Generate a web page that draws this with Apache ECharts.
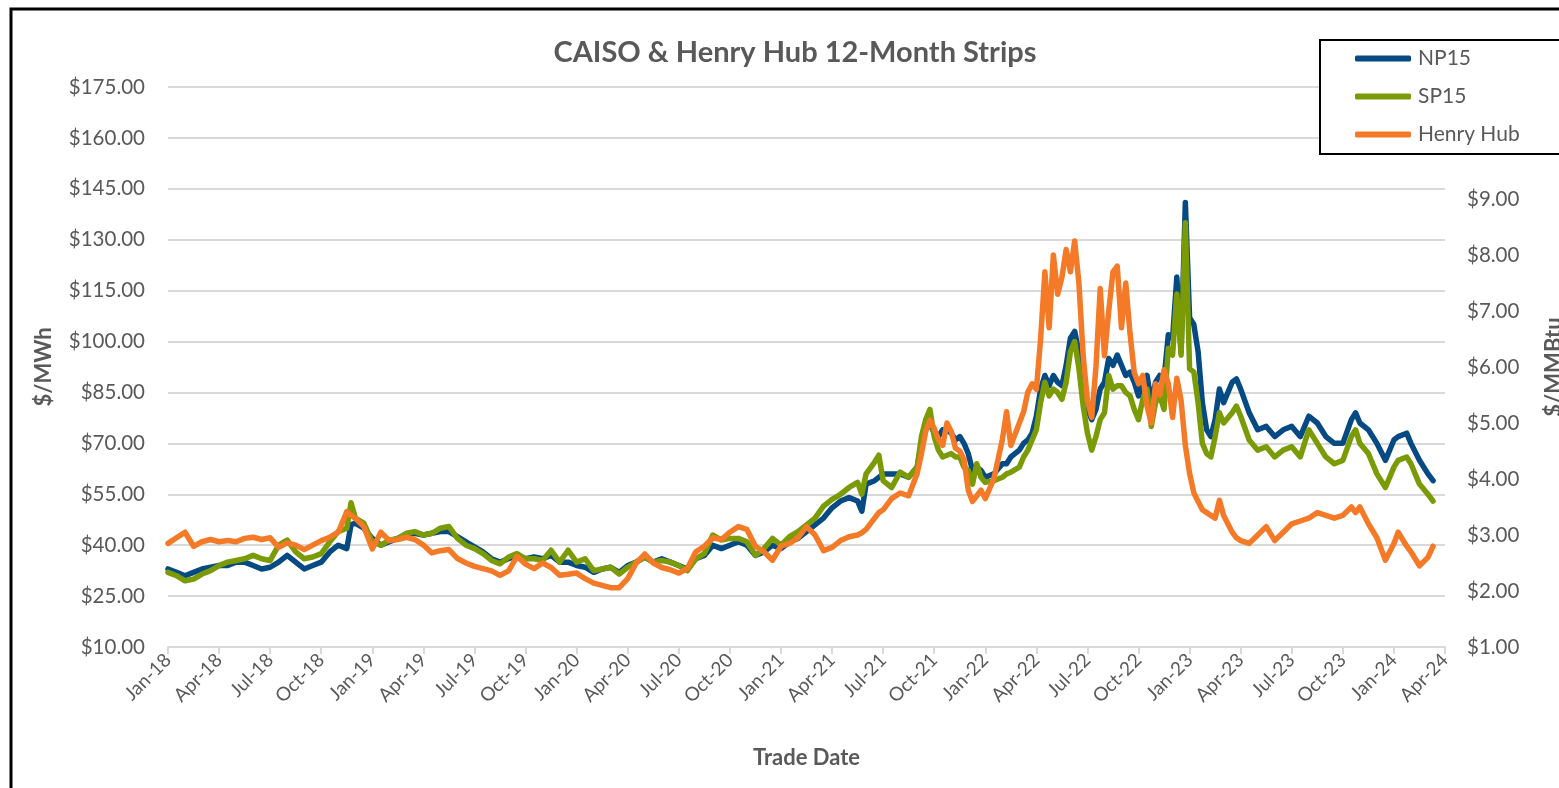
<!DOCTYPE html>
<html>
<head>
<meta charset="utf-8">
<script src="https://cdn.jsdelivr.net/npm/echarts@6/dist/echarts.min.js"></script>
<style>
  html, body { margin: 0; padding: 0; background: #fff; overflow: hidden; }
  #chart { width: 1559px; height: 788px; }
</style>
</head>
<body>
<div id="chart"></div>
<script>
// trade date, in months since Jan-2018
var months = [
  0,0.5,1,1.5,2,2.5,3,3.5,4,4.5,5,5.5,6,6.5,7,7.5,8,8.5,9,9.5,10,10.5,10.75,11,11.5,12,12.5,13,13.5,14,14.5,15,
  15.5,16,16.5,17,17.5,18,18.5,19,19.5,20,20.5,21,21.5,22,22.5,23,23.5,24,24.5,25,25.5,26,26.5,27,27.5,28,28.5,29,29.5,30,30.5,31,
  31.5,32,32.5,33,33.5,34,34.5,35,35.5,36,36.5,37,37.5,38,38.5,39,39.5,40,40.5,40.75,41,41.5,41.75,42,42.5,43,
  43.5,44,44.25,44.5,44.75,45,45.25,45.5,45.75,46,46.25,46.5,46.75,47,47.25,47.5,47.75,48,48.5,49,49.25,49.5,50,50.25,
  50.5,50.75,51,51.25,51.5,51.75,52,52.25,52.5,52.75,53,53.25,53.5,53.75,54,54.25,54.5,54.75,55,55.25,55.5,55.75,56,56.25,
  56.5,56.75,57,57.25,57.5,57.75,58,58.25,58.5,58.75,59,59.25,59.5,59.75,60,60.25,60.5,60.75,61,61.25,61.5,61.75,62,
  62.5,62.75,63,63.5,64,64.5,65,65.5,66,66.5,67,67.5,68,68.5,69,69.5,69.75,70,70.5,71,71.5,72,72.25,72.75,73,73.5,74,74.3
];

var np15 = [
  33,32,31,32,33,33.5,34,34,35,35,34,33,33.5,35,37,35,33,34,35,38,40,39,46,46.5,45,42,40,41,42,43,43.5,43,
  43.5,44,44,42.5,41,39.5,38,36,35,36,37,36,36.5,36,37,35,35,34,33.5,32,33,33.5,32,34,35,36.5,35,36,35,34,33,36,
  37,40,39,40,41,40,37,38,40,39,41,42,44,46,48,51,53,54,53,50,58,59,60,61,61,61,
  60,63,70,74,76,73,72,74,74,73,71,72,70,67,62,63,62,60,61,64,64,66,68,70,
  71,73,78,86,90,87,90,88,87,93,101,103,97,87,80,77,80,86,88,95,93,96,93,90,
  91,88,84,88,90,82,88,90,89,102,101,119,97,141,107,105,97,82,74,72,77,86,82,
  88,89,86,79,74,75,72,74,75,72,78,76,72,70,70,77,79,76,74,70,65,71,72,73,70,65,61,59
];

var sp15 = [
  32,31,29.5,30,31.5,32.5,34,35,35.5,36,37,36,35.5,40,41.5,38,36,36.5,37.5,41,44,45,52.5,48,46.5,41,40,41.5,42,43.5,44,43,
  43.5,45,45.5,42,40,39,37.5,35.5,34.5,36.5,37.5,36,36,35.5,38.5,35,38.5,35,36,32.5,33,33.5,31.5,33.5,35,36.5,35,35.5,35,34,32.5,36,
  37.5,43,41.5,42,42,41,37,39,42,40,42.5,44,46,48,51.5,53.5,55,57,58.5,55,61,64.5,66.5,59,57,61.5,
  60,63,72,77,80,72,68,66,66.5,67,66,66,63,62,58,64,60,58.5,59,60,61,61.5,63,66,
  68,71,74,82,88,84,86,85,83,88,97,100,92,81,73,68,72,77,79,90,86,87,87,85,
  84,80,77,83,86,75,82,84,80,98,96,114,96,135,92,91,82,70,67,66,72,79,76,
  79,81,78,71,68,69,66,68,69,66,74,70,66,64,65,72,74,70,67,61,57,63,65,66,64,58,55,53
];

var henryHub = [
  2.85,2.95,3.05,2.80,2.88,2.92,2.88,2.90,2.88,2.94,2.96,2.92,2.95,2.78,2.86,2.82,2.74,2.82,2.90,2.96,3.05,3.42,3.35,3.30,3.15,2.75,3.05,2.90,2.92,2.96,2.92,2.82,
  2.68,2.72,2.74,2.58,2.50,2.44,2.40,2.36,2.28,2.36,2.62,2.48,2.40,2.50,2.42,2.28,2.30,2.32,2.22,2.14,2.10,2.06,2.06,2.22,2.50,2.66,2.50,2.42,2.38,2.32,2.40,2.70,
  2.80,2.95,2.92,3.05,3.15,3.10,2.80,2.70,2.55,2.80,2.85,2.95,3.15,3.00,2.72,2.78,2.90,2.97,3.00,3.04,3.10,3.30,3.40,3.45,3.65,3.75,
  3.70,4.10,4.45,4.85,5.05,4.90,4.70,4.60,5.00,4.85,4.55,4.50,4.35,3.80,3.60,3.70,3.80,3.65,4.00,4.70,5.20,4.60,5.00,5.20,
  5.55,5.70,5.60,6.50,7.70,6.70,8.00,7.30,7.60,8.10,7.70,8.25,7.50,6.20,5.40,5.10,6.00,7.40,6.20,7.00,7.70,7.80,6.70,7.50,
  6.60,5.90,5.70,5.85,5.30,5.00,5.70,5.50,5.95,5.70,5.10,5.80,5.40,4.60,4.10,3.75,3.60,3.45,3.40,3.35,3.30,3.62,3.35,
  3.05,2.95,2.90,2.85,3.00,3.15,2.90,3.05,3.20,3.25,3.30,3.40,3.35,3.30,3.35,3.50,3.40,3.50,3.20,2.95,2.55,2.85,3.05,2.80,2.70,2.45,2.60,2.80
];

var monthNames = ['Jan','Feb','Mar','Apr','May','Jun','Jul','Aug','Sep','Oct','Nov','Dec'];

function pairs(vals) {
  return months.map(function (m, i) { return [m, vals[i]]; });
}

var txt = '#595959';
var font = 'Lato, "Open Sans", sans-serif';

var myChart = echarts.init(document.getElementById('chart'));

var option = {
  animation: false,
  backgroundColor: '#fff',
  textStyle: { fontFamily: font },
  graphic: [{
    type: 'rect',
    z: -1,
    shape: { x: 11, y: 9, width: 1600, height: 850 },
    style: { fill: 'none', stroke: '#000', lineWidth: 3 }
  }],
  title: {
    text: 'CAISO & Henry Hub 12-Month Strips',
    left: 790,
    top: 33,
    textAlign: 'center',
    textStyle: { color: txt, fontSize: 29, fontWeight: 'bold', fontFamily: font }
  },
  legend: {
    orient: 'vertical',
    left: 1320,
    top: 40,
    padding: [8, 70, 9, 35],
    itemWidth: 56,
    itemHeight: 6,
    itemGap: 17,
    icon: 'roundRect',
    backgroundColor: '#fff',
    borderColor: '#000',
    borderWidth: 2,
    borderRadius: 0,
    z: 10,
    textStyle: { color: txt, fontSize: 21, fontFamily: font, padding: [0, 0, 0, 2] },
    data: ['NP15', 'SP15', 'Henry Hub']
  },
  grid: { left: 168, right: 114, top: 87, bottom: 141, outerBoundsMode: 'none', containLabel: false },
  xAxis: {
    type: 'value',
    min: 0,
    max: 75,
    interval: 3,
    name: 'Trade Date',
    nameLocation: 'middle',
    nameGap: 100,
    nameTextStyle: { color: txt, fontSize: 22, fontWeight: 'bold' },
    axisLine: { lineStyle: { color: '#d9d9d9', width: 2 } },
    axisTick: { show: true, length: 7, lineStyle: { color: '#d9d9d9', width: 2 } },
    splitLine: { show: false },
    axisLabel: {
      rotate: 45,
      color: txt,
      fontSize: 19,
      margin: 10,
      formatter: function (v) {
        var y = 18 + Math.floor(v / 12);
        return monthNames[Math.round(v) % 12] + '-' + y;
      }
    }
  },
  yAxis: [{
    type: 'value',
    min: 10,
    max: 175,
    interval: 15,
    name: '$/MWh',
    nameLocation: 'middle',
    nameGap: 113,
    nameTextStyle: { color: txt, fontSize: 22, fontWeight: 'bold' },
    axisLine: { show: false },
    axisTick: { show: false },
    splitLine: { lineStyle: { color: '#d9d9d9', width: 2 } },
    axisLabel: {
      color: txt, fontSize: 20.5, margin: 23,
      formatter: function (v) { return '$' + v.toFixed(2); }
    }
  }, {
    type: 'value',
    min: 1,
    max: 11,
    interval: 1,
    name: '$/MMBtu',
    nameLocation: 'middle',
    nameGap: 98,
    nameTextStyle: { color: txt, fontSize: 22, fontWeight: 'bold' },
    axisLine: { show: false },
    axisTick: { show: false },
    splitLine: { show: false },
    axisLabel: {
      color: txt, fontSize: 20.5, margin: 22,
      formatter: function (v) { return v > 9 ? '' : '$' + v.toFixed(2); }
    }
  }],
  series: [{
    name: 'NP15',
    type: 'line',
    yAxisIndex: 0,
    showSymbol: false,
    symbol: 'none',
    color: '#064A83',
    lineStyle: { width: 5.5, cap: 'round', join: 'round' },
    data: pairs(np15)
  }, {
    name: 'SP15',
    type: 'line',
    yAxisIndex: 0,
    showSymbol: false,
    symbol: 'none',
    color: '#7A9A06',
    lineStyle: { width: 5.5, cap: 'round', join: 'round' },
    data: pairs(sp15)
  }, {
    name: 'Henry Hub',
    type: 'line',
    yAxisIndex: 1,
    showSymbol: false,
    symbol: 'none',
    color: '#F47A28',
    lineStyle: { width: 5.5, cap: 'round', join: 'round' },
    data: pairs(henryHub)
  }]
};

myChart.setOption(option, true);
</script>
</body>
</html>
